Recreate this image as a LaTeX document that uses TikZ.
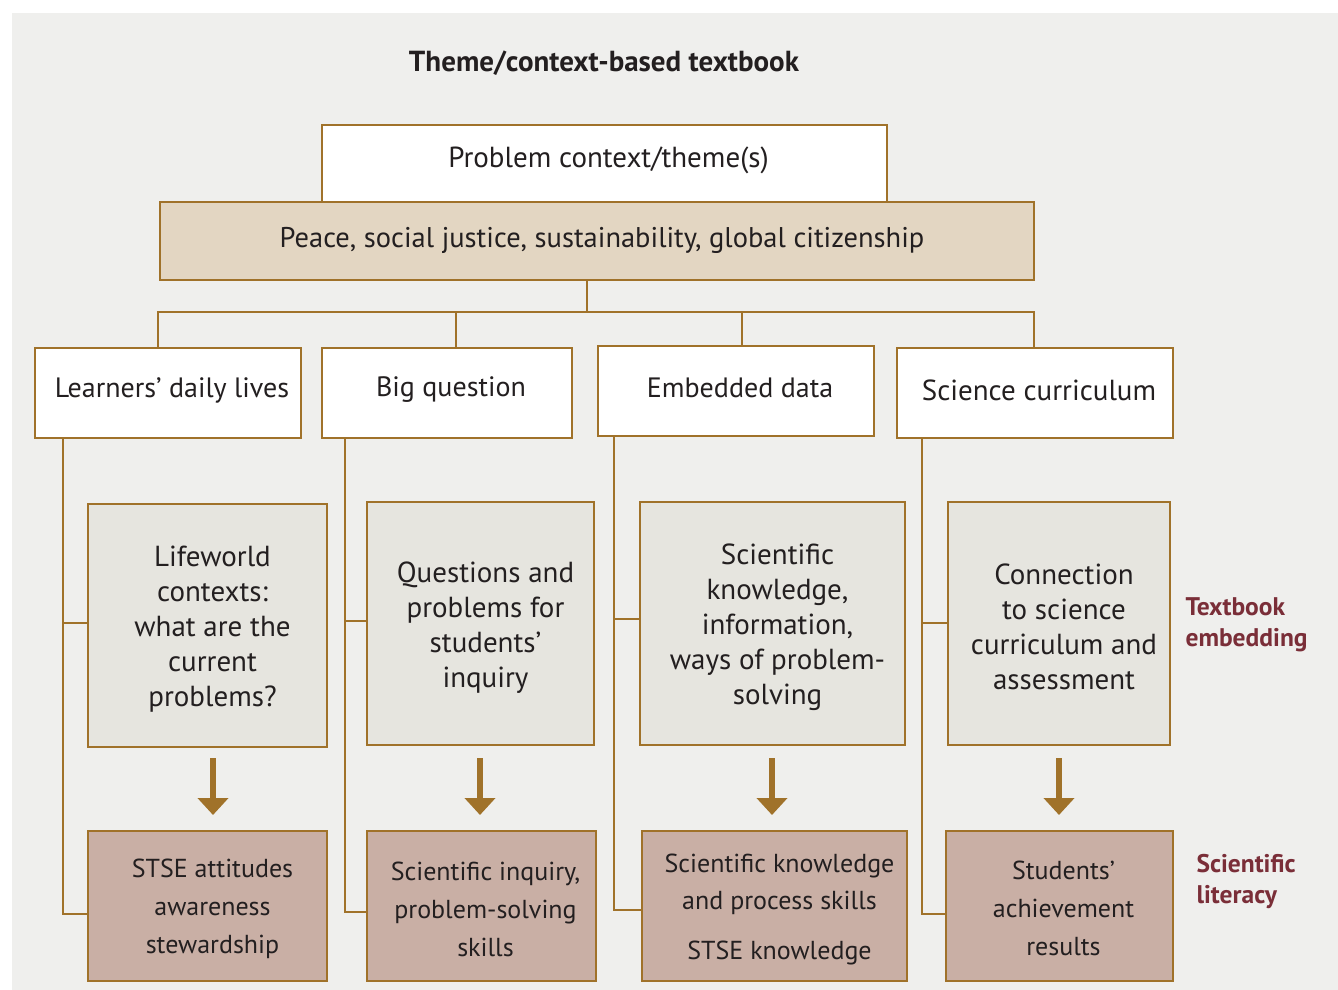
\documentclass[tikz,border=0pt]{standalone}
\usepackage{fontspec}
\setmainfont{PT Sans}
\usetikzlibrary{arrows.meta,calc}
\definecolor{bg}{HTML}{EFEFED}
\definecolor{brn}{HTML}{A0722A}
\definecolor{tan}{HTML}{E3D6C2}
\definecolor{midg}{HTML}{E6E5DF}
\definecolor{pinkb}{HTML}{C9AFA5}
\definecolor{maroon}{HTML}{7A2E38}
\definecolor{txt}{HTML}{231F20}
\tikzset{
  box/.style={draw=brn, line width=2.6pt, inner sep=0pt},
  whitebox/.style={box, fill=white},
  tanbox/.style={box, fill=tan},
  midbox/.style={box, fill=midg},
  pinkbox/.style={box, fill=pinkb},
  tt/.style={inner sep=0pt, align=center, text=txt, font=\fontsize{28}{35}\selectfont},
  midtext/.style={tt, font=\fontsize{29}{35}\selectfont},
  pinktext/.style={tt, font=\fontsize{26}{38}\selectfont},
  conn/.style={draw=brn, line width=2.2pt},
  bigarrow/.style={draw=brn, line width=6pt, -{Triangle[width=30pt,length=17pt]}, color=brn},
  sidelabel/.style={anchor=west, align=left, text=maroon, font=\bfseries\fontsize{25.5}{31}\selectfont},
}
\begin{document}
\begin{tikzpicture}[x=1pt,y=-1pt]
\useasboundingbox (0,0) rectangle (1338,990);
\fill[white] (0,0) rectangle (1338,990);
\fill[bg] (12,13) rectangle (1338,990);

\node[text=txt, font=\bfseries\fontsize{29}{32}\selectfont] (title) at (604,63) {Theme/context-based textbook};

\node[whitebox, minimum width=565pt, minimum height=77pt] (ctx) at (604.5,163.5) {};
\node[tt, font=\fontsize{29}{35}\selectfont] (ctx-t) at ($(ctx)+(4,-3)$) {Problem context/theme(s)};
\node[tanbox, minimum width=874pt, minimum height=78pt] (pil) at (597,241) {};
\node[tt, font=\fontsize{28.5}{35}\selectfont] (pil-t) at ($(pil)+(5,-1)$) {Peace, social justice, sustainability, global citizenship};

\node[whitebox, minimum width=266pt, minimum height=90pt] (A) at (168,393) {};
\node[whitebox, minimum width=250pt, minimum height=90pt] (B) at (447,393) {};
\node[whitebox, minimum width=276pt, minimum height=90pt] (C) at (736,391) {};
\node[whitebox, minimum width=276pt, minimum height=90pt] (D) at (1035,393) {};
\node[tt] (A-t) at ($(A)+(4,-3)$) {Learners’ daily lives};
\node[tt] (B-t) at ($(B)+(4,-3)$) {Big question};
\node[tt] (C-t) at ($(C)+(4,-3)$) {Embedded data};
\node[tt, font=\fontsize{29}{35}\selectfont] (D-t) at ($(D)+(4,-3)$) {Science curriculum};

\node[midbox, minimum width=239pt, minimum height=243pt] (A2) at (207.5,625.5) {};
\node[midbox, minimum width=227pt, minimum height=243pt] (B2) at (480.5,623.5) {};
\node[midbox, minimum width=265pt, minimum height=243pt] (C2) at (772.5,623.5) {};
\node[midbox, minimum width=222pt, minimum height=243pt] (D2) at (1059,623.5) {};
\node[midtext] (A2-t) at ($(A2)+(5,4)$) {Lifeworld\\contexts:\\what are the\\current\\problems?};
\node[midtext] (B2-t) at ($(B2)+(5,4)$) {Questions and\\problems for\\students’\\inquiry};
\node[midtext] (C2-t) at ($(C2)+(5,4)$) {Scientific\\knowledge,\\information,\\ways of problem-\\solving};
\node[midtext] (D2-t) at ($(D2)+(5,3)$) {Connection\\to science\\curriculum and\\assessment};

\node[pinkbox, minimum width=239pt, minimum height=150pt] (A3) at (207.5,906) {};
\node[pinkbox, minimum width=229pt, minimum height=150pt] (B3) at (481.5,906) {};
\node[pinkbox, minimum width=265pt, minimum height=150pt] (C3) at (774.5,906) {};
\node[pinkbox, minimum width=227pt, minimum height=150pt] (D3) at (1059.5,906) {};
\node[pinktext] (A3-t) at ($(A3)+(5,3)$) {STSE attitudes\\awareness\\stewardship};
\node[pinktext] (B3-t) at ($(B3)+(4,3)$) {Scientific inquiry,\\problem-solving\\skills};
\node[pinktext] (C3-t) at ($(C3)+(5,3)$) {Scientific knowledge\\[-1pt]and process skills\\[12pt]STSE knowledge};
\node[pinktext] (D3-t) at ($(D3)+(4,2)$) {Students’\\achievement\\results};

\node[sidelabel] (lab1) at (1182,625) {Textbook\\embedding};
\node[sidelabel] (lab2) at (1193,881) {Scientific\\literacy};

% top tree
\coordinate (hub) at (587,312);
\draw[conn] (pil.south -| hub) -- (hub);
\draw[conn] (A.north -| 158,0) -- (158,312) -- (1034,312) -- (D.north -| 1034,0);
\draw[conn] (456,312) -- (B.north -| 456,0);
\draw[conn] (742,312) -- (C.north -| 742,0);

% side lines
\draw[conn] (A.south -| 63,0) -- (63,914) -- (A3.west |- 0,914);
\draw[conn] (63,623) -- (A2.west |- 0,623);
\draw[conn] (B.south -| 345,0) -- (345,912) -- (B3.west |- 0,912);
\draw[conn] (345,621) -- (B2.west |- 0,621);
\draw[conn] (C.south -| 614,0) -- (614,910) -- (C3.west |- 0,910);
\draw[conn] (614,619) -- (C2.west |- 0,619);
\draw[conn] (D.south -| 922,0) -- (922,914) -- (D3.west |- 0,914);
\draw[conn] (922,623) -- (D2.west |- 0,623);

% arrows
\draw[bigarrow] (A2.south -| 213,0) ++(0,10) -- (213,815);
\draw[bigarrow] (B2.south -| 480,0) ++(0,12) -- (480,815);
\draw[bigarrow] (C2.south -| 772,0) ++(0,12) -- (772,815);
\draw[bigarrow] (D2.south -| 1059,0) ++(0,12) -- (1059,815);
\end{tikzpicture}
\end{document}
